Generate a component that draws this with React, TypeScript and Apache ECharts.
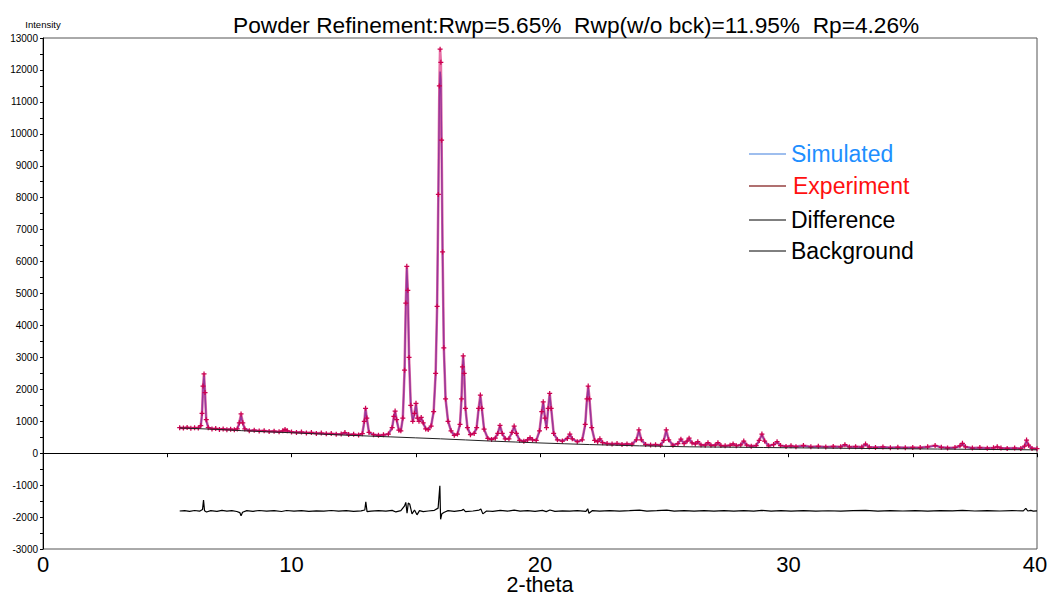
import React, { useEffect, useRef } from "react";
import * as echarts from "echarts";

// 2-theta grid shared by the experiment and simulated profiles
const twoTheta: number[] = [
  5.5, 5.65, 5.8, 5.95, 6.1, 6.25, 6.35, 6.4, 6.44, 6.48, 6.52, 6.57, 6.65, 6.8,
  6.95, 7.1, 7.25, 7.4, 7.55, 7.7, 7.82, 7.9, 7.97, 8.04, 8.12, 8.3, 8.5, 8.7, 8.9,
  9.1, 9.3, 9.5, 9.65, 9.74, 9.83, 10.0, 10.2, 10.4, 10.6, 10.8, 11.0, 11.2, 11.4,
  11.6, 11.8, 12.0, 12.15, 12.3, 12.5, 12.7, 12.85, 12.93, 12.98, 13.03, 13.12,
  13.3, 13.5, 13.7, 13.9, 14.05, 14.12, 14.17, 14.23, 14.32, 14.4, 14.48, 14.55,
  14.6, 14.64, 14.68, 14.73, 14.8, 14.88, 14.95, 15.01, 15.07, 15.13, 15.22, 15.3,
  15.4, 15.5, 15.62, 15.72, 15.8, 15.86, 15.91, 15.95, 15.98, 16.01, 16.04, 16.08,
  16.13, 16.2, 16.3, 16.42, 16.55, 16.68, 16.78, 16.84, 16.88, 16.91, 16.95, 17.0,
  17.08, 17.2, 17.35, 17.45, 17.53, 17.6, 17.66, 17.75, 17.9, 18.05, 18.2, 18.3,
  18.39, 18.48, 18.6, 18.75, 18.87, 18.96, 19.05, 19.18, 19.35, 19.5, 19.6, 19.7,
  19.85, 19.98, 20.07, 20.13, 20.2, 20.26, 20.33, 20.39, 20.45, 20.55, 20.7, 20.9,
  21.1, 21.2, 21.3, 21.5, 21.7, 21.82, 21.89, 21.94, 21.99, 22.08, 22.2, 22.32,
  22.41, 22.52, 22.7, 22.9, 23.1, 23.3, 23.5, 23.7, 23.88, 23.98, 24.08, 24.25,
  24.45, 24.65, 24.85, 24.98, 25.08, 25.18, 25.35, 25.55, 25.67, 25.8, 25.92, 26.0,
  26.12, 26.25, 26.35, 26.48, 26.65, 26.76, 26.88, 27.05, 27.16, 27.28, 27.45,
  27.65, 27.77, 27.9, 28.08, 28.2, 28.32, 28.5, 28.7, 28.82, 28.93, 29.04, 29.2,
  29.4, 29.54, 29.68, 29.9, 30.1, 30.3, 30.6, 30.9, 31.2, 31.5, 31.8, 32.1, 32.27,
  32.45, 32.7, 32.95, 33.1, 33.25, 33.5, 33.8, 34.1, 34.4, 34.7, 35.0, 35.3, 35.6,
  35.9, 36.15, 36.4, 36.7, 36.9, 37.0, 37.12, 37.4, 37.7, 38.0, 38.25, 38.4, 38.55,
  38.8, 39.1, 39.35, 39.5, 39.58, 39.66, 39.8, 40.0,
];

const experiment: number[] = [
  800, 785, 805, 780, 795, 790, 860, 1250, 2100, 2480, 1900, 1050, 800, 760,
  770, 745, 760, 735, 750, 730, 760, 950, 1230, 950, 760, 705, 720, 695, 705,
  680, 690, 670, 700, 745, 700, 665, 650, 660, 635, 645, 620, 630, 605,
  615, 595, 600, 645, 585, 590, 570, 610, 1000, 1405, 1100, 650,
  580, 560, 575, 600, 800, 1150, 1320, 1050, 720, 700, 1100, 2600,
  4700, 5850, 5100, 3000, 1500, 1000, 1250, 1560, 1100, 1000, 1120, 950,
  760, 740, 850, 1300, 2500, 4600, 8100, 11500, 12650, 12240, 9800, 6300,
  3300, 1700, 1000, 700, 560, 600, 900, 1700, 2700, 3050, 2500, 1400,
  800, 580, 620, 800, 1400, 1820, 1400, 750, 460, 430, 470, 620,
  870, 620, 450, 450, 650, 850, 620, 400, 370, 420, 485, 420,
  400, 700, 1300, 1610, 1100, 800, 1400, 1870, 1400, 620, 420, 380,
  460, 600, 450, 360, 420, 900, 1700, 2100, 1700, 800, 400, 360,
  450, 330, 300, 285, 300, 275, 290, 280, 420, 730, 420, 270,
  255, 265, 250, 400, 730, 420, 250, 300, 440, 300, 380, 470,
  320, 290, 360, 260, 250, 330, 245, 250, 330, 240, 230,
  245, 290, 235, 260, 380, 250, 220, 240, 400, 600, 380, 230,
  270, 360, 240, 210, 230, 205, 240, 200, 215, 195, 210, 200, 265,
  195, 205, 190, 285, 190, 175, 195, 170, 185, 170, 180, 175, 200,
  240, 185, 165, 180, 230, 310, 200, 160, 175, 155, 170, 200, 160,
  150, 160, 145, 220, 410, 250, 150, 140,
];

const simulated: number[] = [
  790, 788, 786, 783, 781, 785, 850, 1200, 2000, 2420, 1850, 1000, 810, 775,
  765, 758, 752, 746, 740, 735, 750, 930, 1180, 940, 750, 715, 708, 700, 693,
  686, 680, 675, 690, 735, 690, 662, 655, 648, 640, 633, 626, 618, 612,
  605, 598, 592, 630, 588, 582, 578, 600, 980, 1380, 1080, 640,
  572, 566, 565, 600, 790, 1120, 1300, 1040, 720, 690, 1100, 2550,
  4600, 5800, 5050, 3000, 1480, 1000, 1230, 1520, 1100, 990, 1100, 950,
  770, 745, 860, 1300, 2450, 4590, 8085, 11200, 11950, 11700, 9500, 6200,
  3300, 1700, 1000, 700, 555, 600, 900, 1680, 2650, 3000, 2480, 1400,
  800, 590, 620, 800, 1380, 1780, 1380, 750, 470, 440, 480, 620,
  850, 610, 455, 460, 640, 830, 620, 410, 375, 420, 480, 420,
  400, 690, 1280, 1580, 1100, 800, 1400, 1850, 1400, 620, 425, 385,
  450, 590, 450, 360, 410, 880, 1700, 2060, 1680, 800, 410, 365,
  440, 335, 305, 295, 285, 280, 275, 280, 410, 700, 410, 270,
  262, 258, 255, 390, 700, 410, 255, 300, 430, 300, 380, 460,
  320, 290, 350, 260, 255, 320, 245, 245, 320, 238, 235,
  240, 285, 235, 255, 370, 250, 228, 235, 390, 580, 380, 230,
  265, 350, 240, 215, 212, 210, 225, 205, 202, 200, 198, 200, 255,
  195, 192, 192, 275, 190, 185, 183, 180, 178, 176, 174, 175, 190,
  230, 185, 170, 172, 220, 290, 195, 165, 163, 160, 165, 190, 160,
  155, 152, 150, 210, 390, 240, 150, 145,
];

const diffTheta: number[] = [
  5.5, 5.7, 5.9, 6.1, 6.3, 6.42, 6.46, 6.5, 6.58, 6.75, 7.0, 7.2, 7.4, 7.6, 7.8,
  7.92, 7.97, 8.03, 8.2, 8.45, 8.7, 9.0, 9.3, 9.6, 9.8, 10.1, 10.4, 10.7, 11.0,
  11.3, 11.6, 11.9, 12.2, 12.5, 12.8, 12.95, 12.99, 13.04, 13.2, 13.5, 13.8,
  14.05, 14.2, 14.4, 14.55, 14.6, 14.65, 14.7, 14.76, 14.85, 14.95, 15.05, 15.15,
  15.3, 15.5, 15.75, 15.9, 15.97, 16.0, 16.05, 16.15, 16.3, 16.55, 16.85, 16.92,
  17.0, 17.3, 17.55, 17.62, 17.7, 17.85, 18.1, 18.4, 18.7, 18.96, 19.2, 19.5,
  19.8, 20.1, 20.25, 20.4, 20.6, 20.9, 21.2, 21.5, 21.85, 21.92, 21.97, 22.1,
  22.4, 22.8, 23.2, 23.6, 24.0, 24.3, 24.7, 25.1, 25.4, 25.8, 26.2, 26.6, 27.0,
  27.4, 27.8, 28.2, 28.6, 28.93, 29.3, 29.7, 30.1, 30.6, 31.1, 31.6, 32.1, 32.6,
  33.1, 33.6, 34.1, 34.6, 35.1, 35.6, 36.1, 36.6, 37.0, 37.5, 38.0, 38.5, 39.0,
  39.45, 39.55, 39.63, 39.75, 39.85, 40.0,
];

const difference: number[] = [
  -1810, -1800, -1820, -1795, -1815, -1760, -1470, -1800, -1840, -1800, -1820, -1790, -1815, -1800, -1825,
  -1860, -1960, -1850, -1800, -1820, -1795, -1815, -1800, -1825, -1795, -1815, -1800, -1820, -1805,
  -1815, -1795, -1815, -1800, -1820, -1805, -1780, -1520, -1830, -1815, -1800, -1815,
  -1790, -1840, -1800, -1650, -1540, -1880, -1560, -1600, -1900, -1780, -1930, -1800,
  -1830, -1810, -1790, -1720, -1020, -2070, -1900, -1850, -1800, -1820, -1790, -1760,
  -1830, -1810, -1780, -1750, -1900, -1810, -1820, -1790, -1815, -1780, -1815, -1800,
  -1820, -1790, -1830, -1780, -1820, -1805, -1815, -1800, -1820, -1740, -1880, -1800,
  -1815, -1800, -1815, -1800, -1780, -1815, -1800, -1780, -1815, -1800, -1815, -1800, -1812,
  -1800, -1815, -1800, -1812, -1790, -1815, -1800, -1812, -1800, -1815, -1802, -1812, -1800,
  -1790, -1812, -1800, -1810, -1800, -1812, -1800, -1808, -1790, -1810, -1800, -1810, -1800,
  -1805, -1730, -1810, -1790, -1815, -1805,
];

const bgTheta: number[] = [5.5, 6, 7, 8, 9, 10, 11, 12, 13, 14, 15, 16, 17, 18, 19, 20, 21, 22, 23, 24, 25, 26, 27, 28, 29, 30, 32, 34, 36, 38, 40];
const background: number[] = [790, 775, 745, 705, 670, 640, 605, 570, 540, 510, 480, 450, 415, 380, 350, 320, 295, 270, 250, 230, 215, 200, 192, 185, 178, 170, 155, 142, 130, 117, 105];

const xTicks = { min: 0, max: 40, interval: 10 };
const yTicks = { min: -3000, max: 13000, interval: 1000 };

const titleText = "Powder Refinement:Rwp=5.65%  Rwp(w/o bck)=11.95%  Rp=4.26%";
const legendItems = [
  { name: "Simulated", line: "#7ea8e8", text: "#1e8fff", width: 1.5 },
  { name: "Experiment", line: "#b07070", text: "#ff1010", width: 2 },
  { name: "Difference", line: "#000000", text: "#000000", width: 1 },
  { name: "Background", line: "#000000", text: "#000000", width: 1 },
];

const zip = (xs: number[], ys: number[]) => xs.map((x, i) => [x, ys[i]]);

export default function App() {
  const ref = useRef<HTMLDivElement>(null);
  useEffect(() => {
    if (!ref.current) return;
    const chart = echarts.init(ref.current, undefined, { renderer: "svg" });
    const font = "'Liberation Sans', Arial, sans-serif";
    const legendY = [154, 186, 220, 251];
    const legendX = [791, 793, 791, 791];
    const graphic: any[] = [];
    legendItems.forEach((it, i) => {
      graphic.push({
        type: "line",
        shape: { x1: 749, y1: legendY[i], x2: 786, y2: legendY[i] },
        style: { stroke: it.line, lineWidth: it.width },
      });
      graphic.push({
        type: "text",
        x: legendX[i],
        y: legendY[i],
        style: { text: it.name, fill: it.text, font: `23px ${font}`, textVerticalAlign: "middle" },
      });
    });
    chart.setOption({
      animation: false,
      backgroundColor: "#ffffff",
      title: {
        text: titleText,
        left: 228,
        top: 8,
        textStyle: { fontFamily: font, fontSize: 22.7, fontWeight: "normal", color: "#000" },
      },
      grid: {
        left: 43,
        right: 10,
        top: 38,
        bottom: 46,
        outerBoundsMode: "none",
        containLabel: false,
        show: true,
        borderColor: "#555",
        borderWidth: 1,
      },
      xAxis: {
        type: "value",
        ...xTicks,
        name: "2-theta",
        nameLocation: "middle",
        nameGap: 36,
        nameMoveOverlap: false,
        nameTextStyle: { fontFamily: font, fontSize: 21.5, color: "#000", verticalAlign: "middle" },
        axisLine: { show: true, lineStyle: { color: "#000", width: 1 } },
        axisTick: { show: true, length: 4, lineStyle: { color: "#000" } },
        minorTick: { show: true, splitNumber: 2, length: 4, lineStyle: { color: "#000" } },
        splitLine: { show: false },
        axisLabel: {
          fontFamily: font,
          fontSize: 22,
          color: "#000",
          margin: 4,
          formatter: (v: number) => (v === 40 ? "{e|40}" : String(v)),
          rich: { e: { fontFamily: font, fontSize: 22, color: "#000", padding: [0, 4, 0, 0] } },
        },
      },
      yAxis: {
        type: "value",
        ...yTicks,
        name: "Intensity",
        nameLocation: "end",
        nameGap: 9,
        nameMoveOverlap: false,
        nameTextStyle: { fontFamily: font, fontSize: 9.5, color: "#000", align: "center" },
        axisLine: { show: true, lineStyle: { color: "#000", width: 1 } },
        axisTick: { show: true, length: 3, lineStyle: { color: "#000" } },
        minorTick: { show: true, splitNumber: 2, length: 3, lineStyle: { color: "#000" } },
        splitLine: { show: false },
        axisLabel: {
          fontFamily: font,
          fontSize: 10,
          color: "#000",
          margin: 5,
          formatter: (v: number) => String(v),
        },
      },
      graphic,
      series: [
        {
          name: "Simulated",
          type: "line",
          data: zip(twoTheta, simulated),
          showSymbol: false,
          symbol: "none",
          lineStyle: { color: "#3d6fe0", width: 1.5 },
          z: 2,
        },
        {
          name: "Experiment",
          type: "line",
          data: zip(twoTheta, experiment),
          symbol: "path://M3,0H5V3H8V5H5V8H3V5H0V3H3Z",
          symbolSize: 5,
          itemStyle: { color: "#cc0050" },
          lineStyle: { color: "#d6106a", width: 2.6, opacity: 0.6 },
          z: 3,
        },
        {
          name: "Background",
          type: "line",
          data: zip(bgTheta, background),
          symbol: "none",
          lineStyle: { color: "#222", width: 1 },
          z: 4,
        },
        {
          name: "Difference",
          type: "line",
          data: zip(diffTheta, difference),
          symbol: "none",
          lineStyle: { color: "#000", width: 1.2 },
          z: 4,
        },
      ],
    });
    return () => chart.dispose();
  }, []);
  return (
    <div
      ref={ref}
      style={{ position: "fixed", left: 0, top: 0, width: 1047, height: 595, background: "#fff" }}
    />
  );
}
